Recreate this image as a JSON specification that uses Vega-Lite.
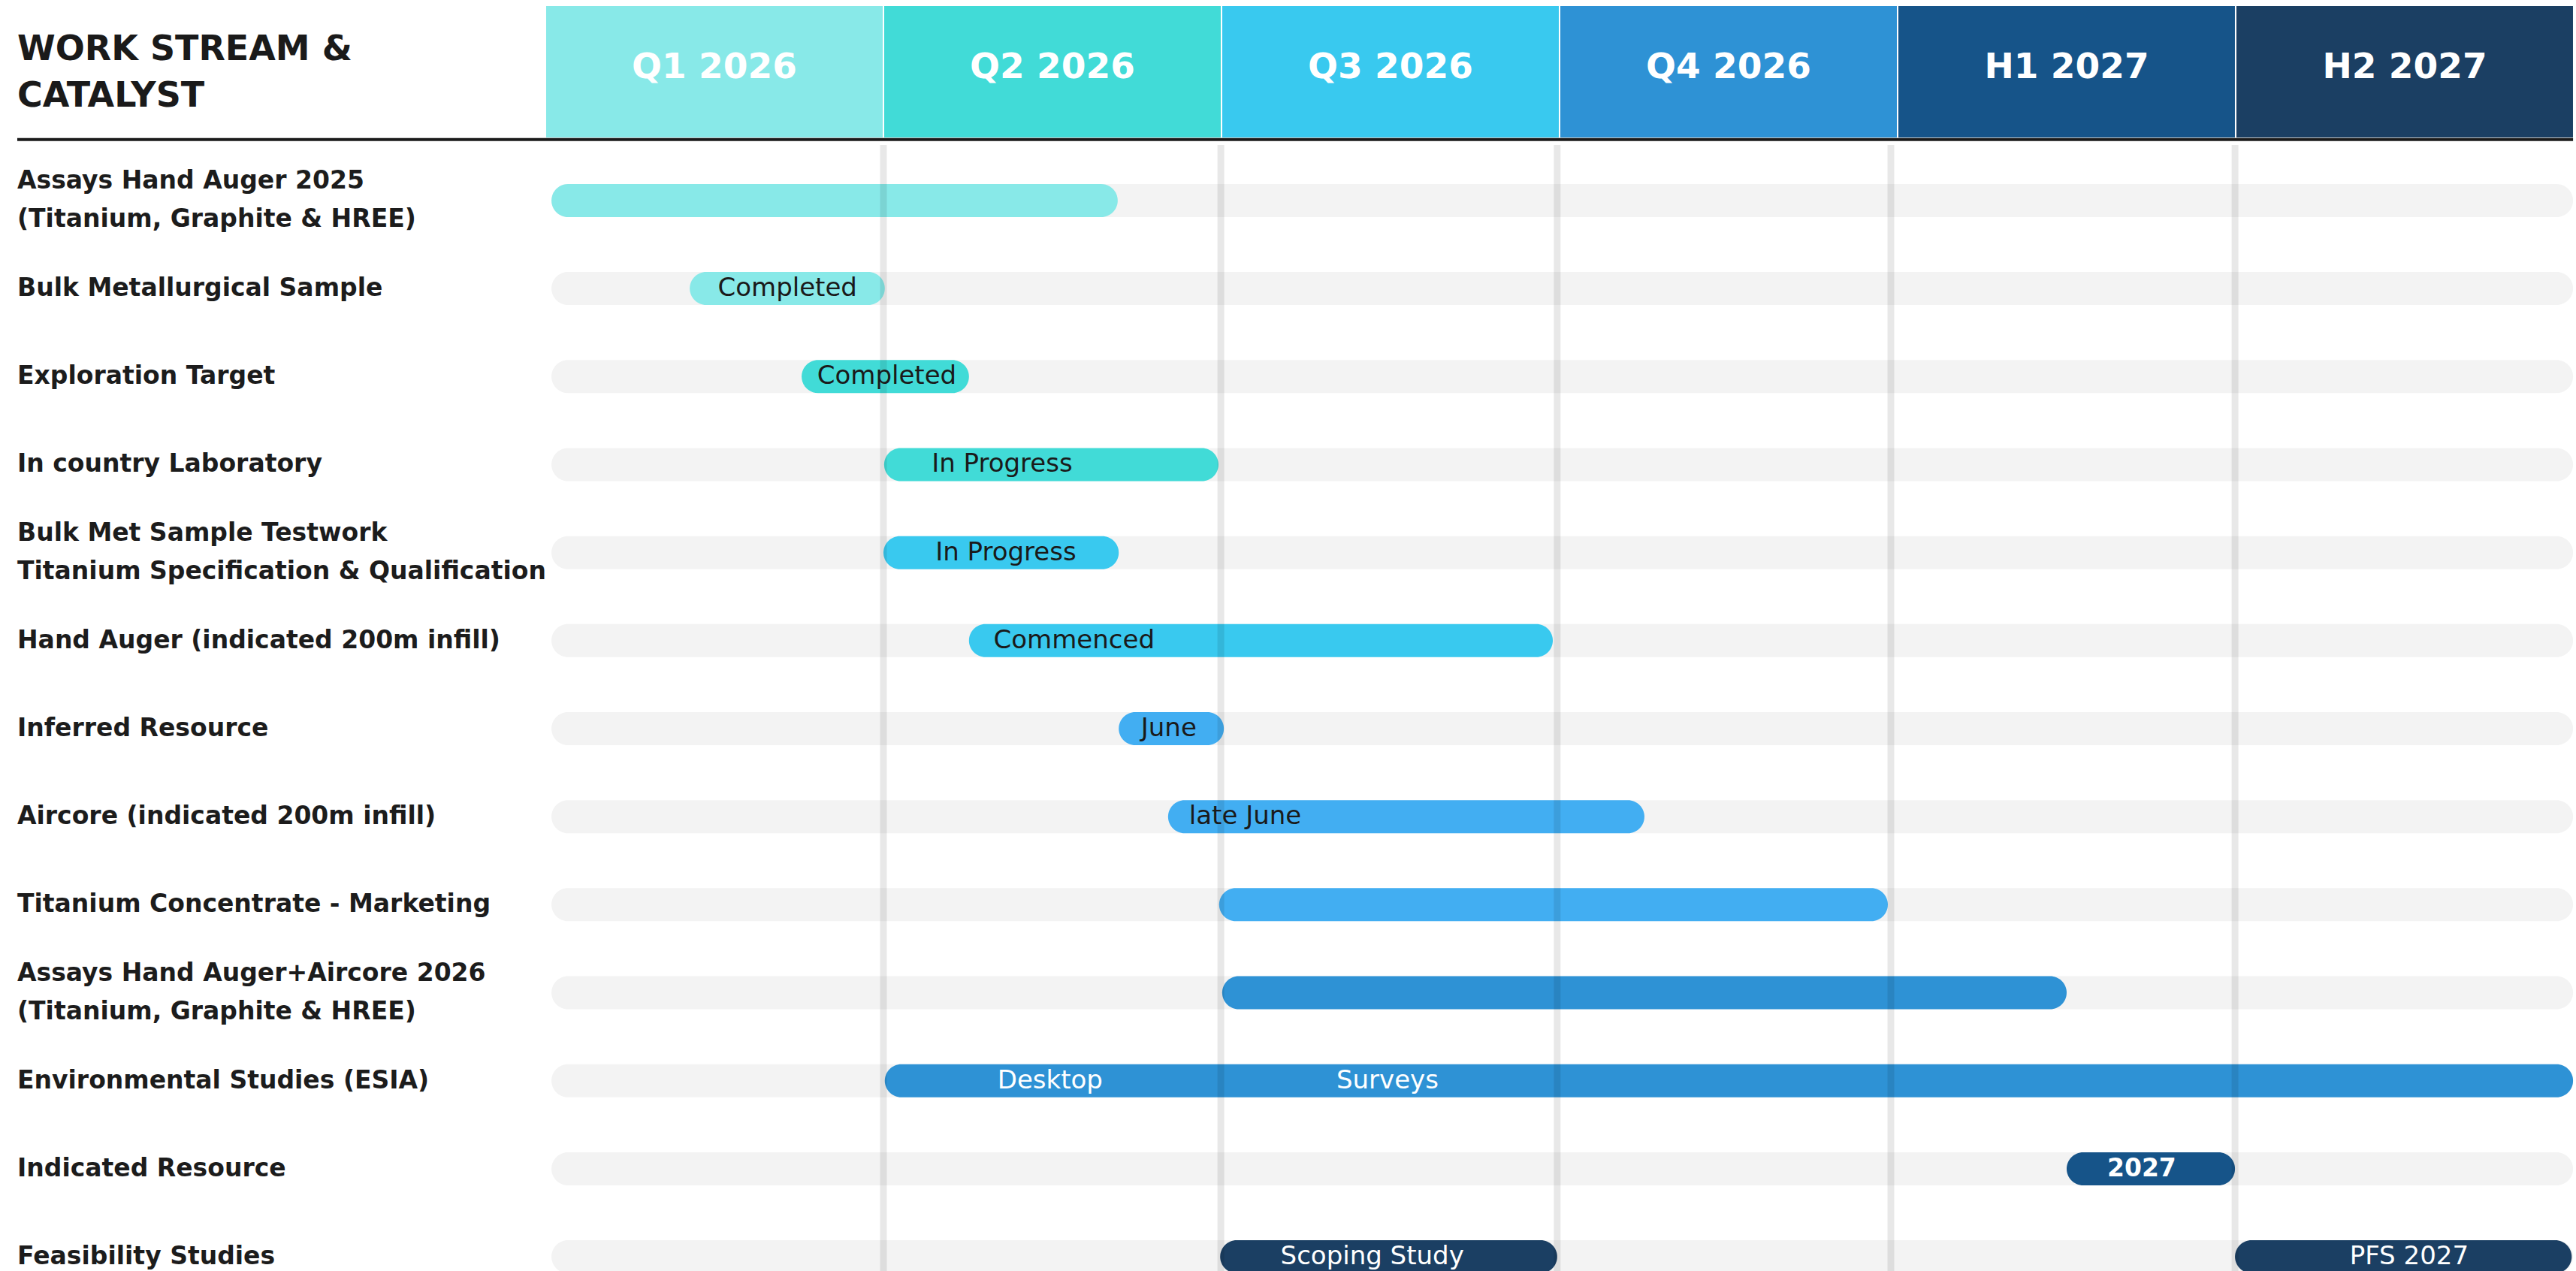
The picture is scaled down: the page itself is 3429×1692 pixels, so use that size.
{
  "$schema": "https://vega.github.io/schema/vega-lite/v6.json",
  "padding": 0,
  "spacing": 0,
  "background": "white",
  "config": {"view": {"stroke": null}},
  "resolve": {"scale": {"color": "independent"}},
  "datasets": {
    "periods": [
      {"period": "Q1 2026", "start": 0, "end": 1},
      {"period": "Q2 2026", "start": 1, "end": 2},
      {"period": "Q3 2026", "start": 2, "end": 3},
      {"period": "Q4 2026", "start": 3, "end": 4},
      {"period": "H1 2027", "start": 4, "end": 5},
      {"period": "H2 2027", "start": 5, "end": 6}
    ],
    "dividers": [
      {"at": 1.0},
      {"at": 1.998},
      {"at": 2.993},
      {"at": 3.98},
      {"at": 4.998}
    ],
    "tasks": [
      {"task": "Assays Hand Auger 2025\n(Titanium, Graphite & HREE)"},
      {"task": "Bulk Metallurgical Sample"},
      {"task": "Exploration Target"},
      {"task": "In country Laboratory"},
      {"task": "Bulk Met Sample Testwork\nTitanium Specification & Qualification"},
      {"task": "Hand Auger (indicated 200m infill)"},
      {"task": "Inferred Resource"},
      {"task": "Aircore (indicated 200m infill)"},
      {"task": "Titanium Concentrate - Marketing"},
      {"task": "Assays Hand Auger+Aircore 2026\n(Titanium, Graphite & HREE)"},
      {"task": "Environmental Studies (ESIA)"},
      {"task": "Indicated Resource"},
      {"task": "Feasibility Studies"}
    ],
    "bars": [
      {"task": "Assays Hand Auger 2025\n(Titanium, Graphite & HREE)", "start": 0.018, "end": 1.693, "group": "g1"},
      {"task": "Bulk Metallurgical Sample", "start": 0.427, "end": 1.004, "group": "g1"},
      {"task": "Exploration Target", "start": 0.758, "end": 1.253, "group": "g2"},
      {"task": "In country Laboratory", "start": 1.002, "end": 1.991, "group": "g2"},
      {"task": "Bulk Met Sample Testwork\nTitanium Specification & Qualification", "start": 1.0, "end": 1.696, "group": "g3"},
      {"task": "Hand Auger (indicated 200m infill)", "start": 1.253, "end": 2.98, "group": "g3"},
      {"task": "Inferred Resource", "start": 1.696, "end": 2.007, "group": "g4"},
      {"task": "Aircore (indicated 200m infill)", "start": 1.842, "end": 3.251, "group": "g4"},
      {"task": "Titanium Concentrate - Marketing", "start": 1.993, "end": 3.971, "group": "g4"},
      {"task": "Assays Hand Auger+Aircore 2026\n(Titanium, Graphite & HREE)", "start": 2.002, "end": 4.5, "group": "g5"},
      {"task": "Environmental Studies (ESIA)", "start": 1.004, "end": 5.998, "group": "g5"},
      {"task": "Indicated Resource", "start": 4.5, "end": 4.998, "group": "g6"},
      {"task": "Feasibility Studies", "start": 1.996, "end": 2.993, "group": "g7"},
      {"task": "Feasibility Studies", "start": 4.998, "end": 5.994, "group": "g7"}
    ],
    "labels": [
      {"task": "Bulk Metallurgical Sample", "label": "Completed", "at": 0.716, "group": "g1"},
      {"task": "Exploration Target", "label": "Completed", "at": 1.01, "group": "g2"},
      {"task": "In country Laboratory", "label": "In Progress", "at": 1.351, "group": "g2"},
      {"task": "Bulk Met Sample Testwork\nTitanium Specification & Qualification", "label": "In Progress", "at": 1.362, "group": "g3"},
      {"task": "Hand Auger (indicated 200m infill)", "label": "Commenced", "at": 1.564, "group": "g3"},
      {"task": "Inferred Resource", "label": "June", "at": 1.844, "group": "g4"},
      {"task": "Aircore (indicated 200m infill)", "label": "late June", "at": 2.07, "group": "g4"},
      {"task": "Environmental Studies (ESIA)", "label": "Desktop", "at": 1.493, "group": "g5"},
      {"task": "Environmental Studies (ESIA)", "label": "Surveys", "at": 2.491, "group": "g5"},
      {"task": "Indicated Resource", "label": "2027", "at": 4.722, "group": "g6"},
      {"task": "Feasibility Studies", "label": "Scoping Study", "at": 2.446, "group": "g7"},
      {"task": "Feasibility Studies", "label": "PFS 2027", "at": 5.513, "group": "g7"}
    ]
  },
  "vconcat": [
    {
      "width": 3429,
      "height": 188,
      "layer": [
        {
          "data": {"name": "periods"},
          "mark": {"type": "rect", "stroke": "white", "strokeWidth": 2},
          "encoding": {
            "x": {"field": "start", "type": "quantitative", "scale": {"domain": [-1.6133, 6.0067], "nice": false, "zero": false}, "axis": null},
            "x2": {"field": "end"},
            "y": {"datum": 0.9628, "type": "quantitative", "scale": {"domain": [0, 1], "nice": false, "zero": false}, "axis": null},
            "y2": {"datum": 0.0213},
            "color": {"field": "period", "type": "nominal", "scale": {"domain": ["Q1 2026", "Q2 2026", "Q3 2026", "Q4 2026", "H1 2027", "H2 2027"], "range": ["#88E9E8", "#41DBD7", "#39C9EF", "#2E92D5", "#165489", "#1B3F63"]}, "legend": null}
          }
        },
        {
          "data": {"name": "periods"},
          "mark": {"type": "text", "dx": 225, "align": "center", "baseline": "middle", "font": "DejaVu Sans", "fontWeight": "bold", "fontSize": 47, "fill": "white"},
          "encoding": {
            "x": {"field": "start", "type": "quantitative", "scale": {"domain": [-1.6133, 6.0067], "nice": false, "zero": false}, "axis": null},
            "y": {"datum": 0.519, "type": "quantitative", "scale": {"domain": [0, 1], "nice": false, "zero": false}, "axis": null},
            "text": {"field": "period"}
          }
        },
        {
          "data": {"values": [{}]},
          "mark": {"type": "text", "text": "WORK STREAM &\nCATALYST", "lineBreak": "\n", "lineHeight": 62, "align": "left", "baseline": "alphabetic", "font": "DejaVu Sans", "fontWeight": "bold", "fontSize": 46, "fill": "#1a1a1a"},
          "encoding": {
            "x": {"datum": -1.5622, "type": "quantitative", "scale": {"domain": [-1.6133, 6.0067], "nice": false, "zero": false}, "axis": null},
            "y": {"datum": 0.5745, "type": "quantitative", "scale": {"domain": [0, 1], "nice": false, "zero": false}, "axis": null}
          }
        },
        {
          "data": {"values": [{}]},
          "mark": {"type": "rule", "color": "#1a1a1a", "strokeWidth": 4},
          "encoding": {
            "x": {"datum": -1.5622, "type": "quantitative", "scale": {"domain": [-1.6133, 6.0067], "nice": false, "zero": false}, "axis": null},
            "x2": {"datum": 5.998},
            "y": {"datum": 0.0122, "type": "quantitative", "scale": {"domain": [0, 1], "nice": false, "zero": false}, "axis": null}
          }
        }
      ]
    },
    {
      "width": 3429,
      "height": 1554,
      "layer": [
        {
          "encoding": {
            "y": {"field": "task", "type": "nominal", "sort": null, "axis": null, "scale": {"paddingInner": 0, "paddingOuter": 0.131, "domain": [
              "Assays Hand Auger 2025\n(Titanium, Graphite & HREE)",
              "Bulk Metallurgical Sample",
              "Exploration Target",
              "In country Laboratory",
              "Bulk Met Sample Testwork\nTitanium Specification & Qualification",
              "Hand Auger (indicated 200m infill)",
              "Inferred Resource",
              "Aircore (indicated 200m infill)",
              "Titanium Concentrate - Marketing",
              "Assays Hand Auger+Aircore 2026\n(Titanium, Graphite & HREE)",
              "Environmental Studies (ESIA)",
              "Indicated Resource",
              "Feasibility Studies"
            ]}}
          },
          "layer": [
            {
              "data": {"name": "tasks"},
              "mark": {"type": "bar", "color": "#f3f3f3", "size": 44, "cornerRadius": 22},
              "encoding": {
                "x": {"datum": 0.018, "type": "quantitative", "scale": {"domain": [-1.6133, 6.0067], "nice": false, "zero": false}, "axis": null},
                "x2": {"datum": 5.998}
              }
            },
            {
              "data": {"name": "bars"},
              "mark": {"type": "bar", "size": 44, "cornerRadius": 22},
              "encoding": {
                "x": {"field": "start", "type": "quantitative", "scale": {"domain": [-1.6133, 6.0067], "nice": false, "zero": false}, "axis": null},
                "x2": {"field": "end"},
                "color": {"field": "group", "type": "nominal", "scale": {"domain": ["g1", "g2", "g3", "g4", "g5", "g6", "g7"], "range": ["#88E9E8", "#41DBD7", "#39C9EF", "#42AEF2", "#2E92D5", "#165489", "#1B3F63"]}, "legend": null}
              }
            }
          ]
        },
        {
          "data": {"name": "dividers"},
          "mark": {"type": "rule", "color": "#000000", "opacity": 0.09, "strokeWidth": 9},
          "encoding": {
            "x": {"field": "at", "type": "quantitative", "scale": {"domain": [-1.6133, 6.0067], "nice": false, "zero": false}, "axis": null}
          }
        },
        {
          "encoding": {
            "y": {"field": "task", "type": "nominal", "sort": null, "axis": null, "scale": {"paddingInner": 0, "paddingOuter": 0.131, "domain": [
              "Assays Hand Auger 2025\n(Titanium, Graphite & HREE)",
              "Bulk Metallurgical Sample",
              "Exploration Target",
              "In country Laboratory",
              "Bulk Met Sample Testwork\nTitanium Specification & Qualification",
              "Hand Auger (indicated 200m infill)",
              "Inferred Resource",
              "Aircore (indicated 200m infill)",
              "Titanium Concentrate - Marketing",
              "Assays Hand Auger+Aircore 2026\n(Titanium, Graphite & HREE)",
              "Environmental Studies (ESIA)",
              "Indicated Resource",
              "Feasibility Studies"
            ]}}
          },
          "layer": [
            {
              "data": {"name": "labels"},
              "transform": [{"filter": {"field": "group", "oneOf": ["g1", "g2", "g3", "g4"]}}],
              "mark": {"type": "text", "align": "center", "baseline": "middle", "font": "DejaVu Sans", "fontSize": 34, "color": "#1a1a1a"},
              "encoding": {
                "x": {"field": "at", "type": "quantitative", "scale": {"domain": [-1.6133, 6.0067], "nice": false, "zero": false}, "axis": null},
                "text": {"field": "label"}
              }
            },
            {
              "data": {"name": "labels"},
              "transform": [{"filter": "indexof(['g5','g6','g7'], datum.group) >= 0 && datum.label != '2027'"}],
              "mark": {"type": "text", "align": "center", "baseline": "middle", "font": "DejaVu Sans", "fontSize": 34, "color": "white"},
              "encoding": {
                "x": {"field": "at", "type": "quantitative", "scale": {"domain": [-1.6133, 6.0067], "nice": false, "zero": false}, "axis": null},
                "text": {"field": "label"}
              }
            },
            {
              "data": {"name": "labels"},
              "transform": [{"filter": "datum.label == '2027'"}],
              "mark": {"type": "text", "align": "center", "baseline": "middle", "font": "DejaVu Sans", "fontWeight": "bold", "fontSize": 33, "color": "white"},
              "encoding": {
                "x": {"field": "at", "type": "quantitative", "scale": {"domain": [-1.6133, 6.0067], "nice": false, "zero": false}, "axis": null},
                "text": {"field": "label"}
              }
            },
            {
              "data": {"name": "tasks"},
              "transform": [{"filter": "indexof(datum.task, '\\n') < 0"}],
              "mark": {"type": "text", "align": "left", "baseline": "middle", "font": "DejaVu Sans", "fontWeight": "bold", "fontSize": 33, "color": "#1c1c1c"},
              "encoding": {
                "x": {"datum": -1.5622, "type": "quantitative", "scale": {"domain": [-1.6133, 6.0067], "nice": false, "zero": false}, "axis": null},
                "text": {"field": "task"}
              }
            },
            {
              "data": {"name": "tasks"},
              "transform": [{"filter": "indexof(datum.task, '\\n') >= 0"}],
              "mark": {"type": "text", "align": "left", "baseline": "middle", "dy": -26, "lineBreak": "\n", "lineHeight": 51, "font": "DejaVu Sans", "fontWeight": "bold", "fontSize": 33, "color": "#1c1c1c"},
              "encoding": {
                "x": {"datum": -1.5622, "type": "quantitative", "scale": {"domain": [-1.6133, 6.0067], "nice": false, "zero": false}, "axis": null},
                "text": {"field": "task"}
              }
            }
          ]
        }
      ]
    }
  ]
}
